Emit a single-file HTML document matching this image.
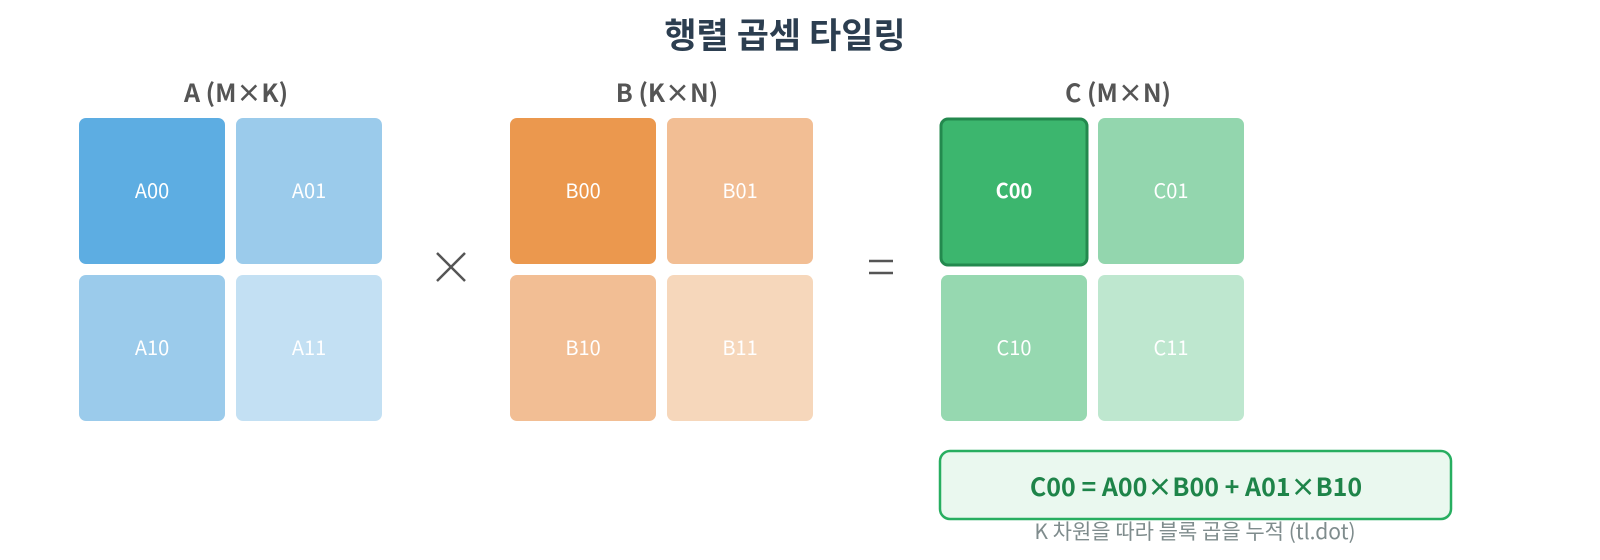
<!DOCTYPE html>
<html><head><meta charset="utf-8"><style>
html,body{margin:0;padding:0;background:#fff;width:1600px;height:560px;overflow:hidden}
text{font-family:"Noto Sans CJK KR","Liberation Sans",sans-serif}
</style></head><body>
<svg width="1600" height="560" viewBox="0 0 1600 560" xmlns="http://www.w3.org/2000/svg">
<text x="785" y="48" text-anchor="middle" font-size="35" font-weight="bold" fill="#2c3e50">행렬 곱셈 타일링</text>
<g font-size="25" font-weight="bold" fill="#555" text-anchor="middle">
<text x="236" y="102">A (M×K)</text>
<text x="667" y="102">B (K×N)</text>
<text x="1118" y="102">C (M×N)</text>
</g>
<g>
<rect x="79" y="118" width="146" height="146" rx="7" fill="#5dade2"/>
<rect x="236" y="118" width="146" height="146" rx="7" fill="#9bcbeb"/>
<rect x="79" y="275" width="146" height="146" rx="7" fill="#9bcbeb"/>
<rect x="236" y="275" width="146" height="146" rx="7" fill="#c3e0f3"/>
<rect x="510" y="118" width="146" height="146" rx="7" fill="#eb984e"/>
<rect x="667" y="118" width="146" height="146" rx="7" fill="#f2be94"/>
<rect x="510" y="275" width="146" height="146" rx="7" fill="#f2be94"/>
<rect x="667" y="275" width="146" height="146" rx="7" fill="#f6d7bb"/>
<rect x="941" y="119" width="146" height="146" rx="7" fill="#3cb66e" stroke="#23894e" stroke-width="3"/>
<rect x="1098" y="118" width="146" height="146" rx="7" fill="#93d6ae"/>
<rect x="941" y="275" width="146" height="146" rx="7" fill="#96d8b0"/>
<rect x="1098" y="275" width="146" height="146" rx="7" fill="#bee7cf"/>
</g>
<g font-size="20" fill="#fff" text-anchor="middle">
<text x="152" y="198">A00</text><text x="309" y="198">A01</text>
<text x="152" y="355">A10</text><text x="309" y="355">A11</text>
<text x="583" y="198">B00</text><text x="740" y="198">B01</text>
<text x="583" y="355">B10</text><text x="740" y="355">B11</text>
<text x="1014" y="198" font-weight="bold">C00</text><text x="1171" y="198">C01</text>
<text x="1014" y="355">C10</text><text x="1171" y="355">C11</text>
</g>
<g stroke="#555" stroke-width="2.5" fill="none">
<line x1="437" y1="253" x2="465" y2="281"/><line x1="465" y1="253" x2="437" y2="281"/>
<line x1="869" y1="261" x2="893" y2="261"/><line x1="869" y1="273" x2="893" y2="273"/>
</g>
<rect x="940" y="451" width="511" height="68" rx="10" fill="#eaf8ef" stroke="#27ae60" stroke-width="2.5"/>
<text x="1196" y="496" text-anchor="middle" font-size="25" font-weight="bold" fill="#1e8449">C00 = A00×B00 + A01×B10</text>
<text x="1195" y="539" text-anchor="middle" font-size="21" fill="#7f8c8d">K 차원을 따라 블록 곱을 누적 (tl.dot)</text>
</svg>
</body></html>
